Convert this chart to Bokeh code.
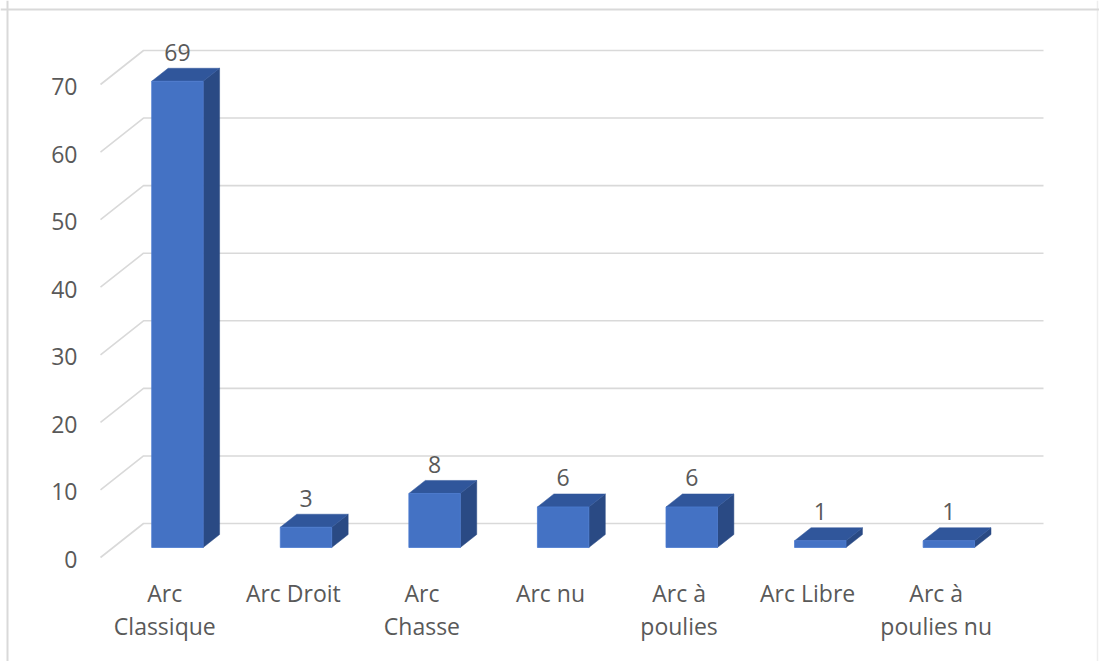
from bokeh.plotting import figure
from bokeh.models import Range1d, Span
from bokeh.core.properties import value
from bokeh.embed import file_html
from bokeh.resources import INLINE

# ---- data ----
categories = ["Arc Classique", "Arc Droit", "Arc Chasse", "Arc nu",
              "Arc à poulies", "Arc Libre", "Arc à poulies nu"]
label_lines = [["Arc", "Classique"], ["Arc Droit"], ["Arc", "Chasse"], ["Arc nu"],
               ["Arc à", "poulies"], ["Arc Libre"], ["Arc à", "poulies nu"]]
counts = [69, 3, 8, 6, 6, 1, 1]
y_ticks = [0, 10, 20, 30, 40, 50, 60, 70]

# ---- style / geometry constants ----
W, H = 1099, 661
CW = 900 / 7.0          # px per category
PXV = 473 / 70.0        # px per value unit
X0_PX, Y0_PX = 100, 104  # origin (floor front-left) in canvas px (from left / from bottom)
DX = 43 / CW            # depth offset x (category units)
DY = 34 / PXV           # depth offset y (value units)
D1, D2 = 10 / 34.0, 23 / 34.0   # bar front/back depth fractions
BAR_W = 0.4
FONT = value("Open Sans")
TXT = "#595959"
FS = "23px"
TXT_SHIFT = 9 / PXV     # baseline correction

p = figure(width=W, height=H, output_backend="svg", toolbar_location=None,
           x_axis_type=None, y_axis_type=None, min_border=0,
           x_range=Range1d(-X0_PX / CW, (W - X0_PX) / CW),
           y_range=Range1d(-Y0_PX / PXV, (H - Y0_PX) / PXV))
p.outline_line_color = None
p.background_fill_color = "white"
p.border_fill_color = "white"
p.grid.visible = False

# chart-area border (left, top, right)
p.add_layout(Span(location=(7 - X0_PX) / CW, dimension="height", line_color="#D9D9D9", line_width=2))
p.add_layout(Span(location=(1097 - X0_PX) / CW, dimension="height", line_color="#EEEEEE", line_width=1.5))
p.add_layout(Span(location=(H - 9 - Y0_PX) / PXV, dimension="width", line_color="#D9D9D9", line_width=2))

# gridlines: left wall diagonal + back wall horizontal
n = len(categories)
gx = [[0, DX, n + DX] for _ in y_ticks]
gy = [[t, t + DY, t + DY] for t in y_ticks]
p.multi_line(gx, gy, line_color="#D9D9D9", line_width=1.6)

# y tick labels
p.text(x=[-23 / CW] * len(y_ticks), y=[t - 11 / PXV + TXT_SHIFT for t in y_ticks],
       text=[str(t) for t in y_ticks], text_align="right", text_baseline="alphabetic",
       text_font=FONT, text_font_size=FS, text_color=TXT)

# 3D bars
ox, oy = (D2 - D1) * DX, (D2 - D1) * DY
fx0, fx1, fy0, fy1 = [], [], [], []
side_xs, side_ys, top_xs, top_ys = [], [], [], []
for i, v in enumerate(counts):
    cx = i + 0.5 + D1 * DX
    x0, x1 = cx - BAR_W / 2, cx + BAR_W / 2
    y0, y1 = D1 * DY, v + D1 * DY
    fx0.append(x0); fx1.append(x1); fy0.append(y0); fy1.append(y1)
    side_xs.append([x1, x1 + ox, x1 + ox, x1])
    side_ys.append([y0, y0 + oy, y1 + oy, y1])
    top_xs.append([x0, x1, x1 + ox, x0 + ox])
    top_ys.append([y1, y1, y1 + oy, y1 + oy])

p.patches(side_xs, side_ys, fill_color="#2A4A84", line_color="#2A4A84", line_width=0.5)
p.patches(top_xs, top_ys, fill_color="#30569B", line_color="#30569B", line_width=0.5)
p.quad(left=fx0, right=fx1, bottom=fy0, top=fy1, fill_color="#4472C4",
       line_color="#4A7AD0", line_width=0.8)

# value labels
p.text(x=[i + 0.5 + D1 * DX for i in range(n)],
       y=[v + D2 * DY + 7 / PXV + TXT_SHIFT for v in counts],
       text=[str(v) for v in counts], text_align="center", text_baseline="alphabetic",
       text_font=FONT, text_font_size=FS, text_color=TXT)

# category labels (wrapped as in the reference)
for li, off in enumerate([44, 77]):
    xs, ts = [], []
    for i, lines in enumerate(label_lines):
        if li < len(lines):
            xs.append(i + 0.5); ts.append(lines[li])
    p.text(x=xs, y=[-off / PXV + TXT_SHIFT] * len(xs), text=ts, text_align="center",
           text_baseline="alphabetic", text_font=FONT, text_font_size=FS, text_color=TXT)

open("out.html", "w").write(file_html(p, INLINE))
